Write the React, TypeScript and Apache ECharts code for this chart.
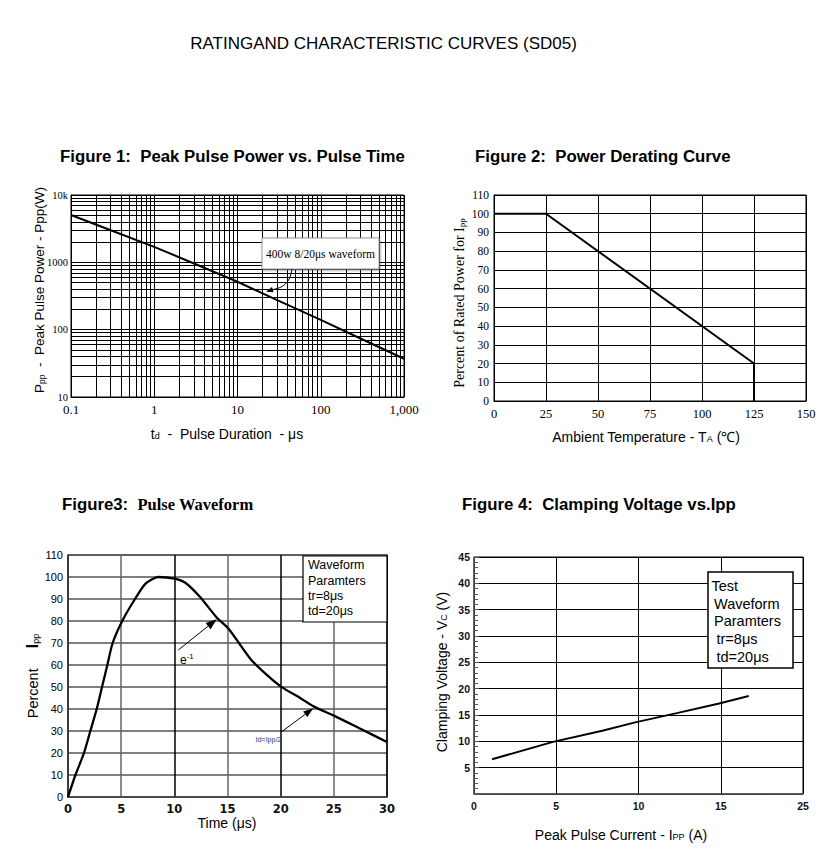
import React, { useEffect, useRef } from 'react';
import * as echarts from 'echarts';

const SANS = '"Liberation Sans", Arial, sans-serif';
const SERIF = '"Liberation Serif", "Times New Roman", serif';
const WIDE = '"DejaVu Sans", sans-serif';

// Figure 1: Peak Pulse Power vs. Pulse Time (log-log)
const fig1Duration = [0.1, 0.3, 1, 3, 10, 30, 100, 300, 1000];
const fig1Power = [5050, 3000, 1700, 960, 515, 275, 140, 74, 37];
const fig1XTicks = ['0.1', '1', '10', '100', '1,000'];
const fig1YTicks = ['10', '100', '1000', '10k'];
const fig1XDecades = [0.1, 1, 10, 100];
const fig1YDecades = [10, 100, 1000];
const logSteps = [2, 3, 4, 5, 6, 7, 8, 9];

// Figure 2: Power Derating Curve
const fig2Temp = [0, 25, 125, 125];
const fig2Percent = [100, 100, 20, 0];

// Figure 3: Pulse Waveform
const fig3Time = [0, 0.7, 1.5, 2.1, 2.7, 3.2, 3.7, 4.2, 5.1, 6.3, 7.3, 8.5, 10, 11, 12.4, 14, 15.1, 17.2, 18.7, 20, 21.9, 23.1, 25, 27.5, 30];
const fig3Percent = [0, 10, 20, 30, 40, 50, 60, 70, 80, 90, 97, 100, 99.3, 97.5, 91, 81.5, 76.5, 62.5, 55.5, 50.3, 44.8, 41.2, 37, 31, 25];

// Figure 4: Clamping Voltage vs. Ipp
const fig4Current = [1.1, 4.8, 7.8, 9.8, 12.4, 14.9, 16.7];
const fig4Voltage = [6.6, 9.9, 12, 13.6, 15.4, 17.2, 18.6];
const fig4XTicks = ['0', '5', '10', '15', '25'];

const zip = (a: number[], b: number[]) => a.map((v, i) => [v, b[i]]);

function arrow(x1: number, y1: number, x2: number, y2: number, len: number, w: number, lw: number) {
  const dx = x2 - x1, dy = y2 - y1, d = Math.hypot(dx, dy);
  const ux = dx / d, uy = dy / d;
  const bx = x2 - ux * len, by = y2 - uy * len;
  return [
    { type: 'line', z: 100, shape: { x1, y1, x2: bx, y2: by }, style: { stroke: '#000', lineWidth: lw } },
    {
      type: 'polygon', z: 100,
      shape: { points: [[x2, y2], [bx - uy * w / 2, by + ux * w / 2], [bx + uy * w / 2, by - ux * w / 2]] },
      style: { fill: '#000' },
    },
  ];
}

function txt(x: number, y: number, text: string, fontSize: number, opts: any = {}) {
  return {
    type: 'text', z: 100, x, y, rotation: opts.rotation || 0,
    style: {
      text, fontSize, fontFamily: opts.fontFamily || SANS, fontWeight: opts.fontWeight || 'normal',
      fill: opts.fill || '#000', align: opts.align || 'center', verticalAlign: opts.verticalAlign || 'middle',
      rich: opts.rich, lineHeight: opts.lineHeight,
    },
  };
}

function subRich(fontSize: number, family: string, subSize: number) {
  return {
    n: { fontSize, fontFamily: family, lineHeight: fontSize + 3, verticalAlign: 'bottom' },
    s: { fontSize: subSize, fontFamily: family, lineHeight: subSize + 1, verticalAlign: 'bottom' },
  };
}

export default function App() {
  const ref = useRef<HTMLDivElement>(null);
  useEffect(() => {
    document.body.style.margin = '0';
    const chart = echarts.init(ref.current!, null, { renderer: 'svg' });

    const minorX = fig1XDecades.flatMap((d) => logSteps.map((k) => ({ xAxis: k * d })));
    const minorY = fig1YDecades.flatMap((d) => logSteps.map((k) => ({ yAxis: k * d })));

    const blackSplit = { show: true, lineStyle: { color: '#000', width: 1 } };

    const option: any = {
      animation: false,
      grid: [
        { left: 71, top: 195, width: 333, height: 202, show: true, borderColor: '#000', borderWidth: 1 },
        { left: 494, top: 195, width: 312, height: 206, show: true, borderColor: '#000', borderWidth: 1 },
        { left: 68, top: 555, width: 319, height: 242, show: true, borderColor: '#555', borderWidth: 1.5 },
        { left: 474, top: 557, width: 329, height: 237, show: true, borderColor: '#000', borderWidth: 1 },
      ],
      xAxis: [
        {
          type: 'log', gridIndex: 0, logBase: 10, min: 0.1, max: 1000, splitNumber: 4,
          axisLine: { lineStyle: { color: '#000' } }, axisTick: { show: false }, splitLine: blackSplit,
          axisLabel: {
            fontFamily: SERIF, fontSize: 13, color: '#000', margin: 6,
            formatter: (v: number) => fig1XTicks[Math.round(Math.log10(v)) + 1] ?? '',
          },
        },
        {
          type: 'value', gridIndex: 1, min: 0, max: 150, interval: 25,
          axisLine: { lineStyle: { color: '#000' } }, axisTick: { show: false }, splitLine: blackSplit,
          axisLabel: { fontFamily: SERIF, fontSize: 12.5, color: '#000', margin: 6 },
        },
        {
          type: 'value', gridIndex: 2, min: 0, max: 30, interval: 5,
          axisLine: { lineStyle: { color: '#444', width: 1.5 } }, axisTick: { show: false },
          splitLine: { show: true, lineStyle: { color: ['#000', '#666'], width: 1.5 } },
          axisLabel: { fontFamily: WIDE, fontWeight: 'bold', fontSize: 11.5, color: '#111', margin: 6 },
        },
        {
          type: 'value', gridIndex: 3, min: 0, max: 20, interval: 5,
          axisLine: { lineStyle: { color: '#555', width: 1.5 } }, axisTick: { show: false }, splitLine: blackSplit,
          axisLabel: {
            fontFamily: SANS, fontWeight: 'bold', fontSize: 10.5, color: '#111', margin: 6,
            formatter: (v: number) => fig4XTicks[Math.round(v / 5)] ?? '',
          },
        },
      ],
      yAxis: [
        {
          type: 'log', gridIndex: 0, logBase: 10, min: 10, max: 10000, splitNumber: 3,
          axisLine: { lineStyle: { color: '#000' } }, axisTick: { show: false }, splitLine: blackSplit,
          axisLabel: {
            fontFamily: SERIF, fontSize: 10.5, color: '#000', margin: 3,
            formatter: (v: number) => fig1YTicks[Math.round(Math.log10(v)) - 1] ?? '',
          },
        },
        {
          type: 'value', gridIndex: 1, min: 0, max: 110, interval: 10,
          axisLine: { lineStyle: { color: '#000' } }, axisTick: { show: false }, splitLine: blackSplit,
          axisLabel: { fontFamily: SERIF, fontSize: 11.5, color: '#000', margin: 5 },
        },
        {
          type: 'value', gridIndex: 2, min: 0, max: 110, interval: 10,
          axisLine: { lineStyle: { color: '#444', width: 1.5 } }, axisTick: { show: false },
          splitLine: { show: true, lineStyle: { color: '#555', width: 1.7 } },
          axisLabel: { fontFamily: SANS, fontSize: 11, color: '#000', margin: 5 },
        },
        {
          type: 'value', gridIndex: 3, min: 0, max: 45, interval: 5,
          axisLine: { lineStyle: { color: '#555', width: 1.5 } },
          axisTick: { show: true, inside: true, length: 5, lineStyle: { color: '#555' } },
          minorTick: { show: true, splitNumber: 5, length: 4, lineStyle: { color: '#555' } },
          splitLine: blackSplit,
          axisLabel: {
            fontFamily: SANS, fontWeight: 'bold', fontSize: 10.5, color: '#111', margin: 4,
            formatter: (v: number) => (v === 0 ? '' : String(v)),
          },
        },
      ],
      series: [
        {
          type: 'line', xAxisIndex: 0, yAxisIndex: 0, data: zip(fig1Duration, fig1Power),
          symbol: 'none', lineStyle: { color: '#000', width: 2 }, silent: true,
          markLine: {
            silent: true, symbol: ['none', 'none'], label: { show: false },
            lineStyle: { color: '#000', width: 1, type: 'solid' },
            emphasis: { disabled: true },
            data: [...minorX, ...minorY],
          },
        },
        {
          type: 'line', xAxisIndex: 1, yAxisIndex: 1, data: zip(fig2Temp, fig2Percent),
          symbol: 'none', lineStyle: { color: '#000', width: 2 }, silent: true,
        },
        {
          type: 'line', xAxisIndex: 2, yAxisIndex: 2, data: zip(fig3Time, fig3Percent),
          symbol: 'none', smooth: 0.25, lineStyle: { color: '#000', width: 2.3 }, silent: true,
        },
        {
          type: 'line', xAxisIndex: 3, yAxisIndex: 3, data: zip(fig4Current, fig4Voltage),
          symbol: 'none', lineStyle: { color: '#000', width: 2 }, silent: true,
        },
      ],
      graphic: [
        txt(383.5, 43, 'RATINGAND CHARACTERISTIC CURVES (SD05)', 17),
        txt(60, 156, 'Figure 1:  Peak Pulse Power vs. Pulse Time', 16.8, { fontWeight: 'bold', align: 'left' }),
        txt(475, 156, 'Figure 2:  Power Derating Curve', 16.8, { fontWeight: 'bold', align: 'left' }),
        txt(62, 504, '{a|Figure3:  }{b|Pulse Waveform}', 16.5, {
          align: 'left',
          rich: {
            a: { fontSize: 16.8, fontWeight: 'bold', fontFamily: SANS },
            b: { fontSize: 16.5, fontWeight: 'bold', fontFamily: SERIF },
          },
        }),
        txt(462, 504, 'Figure 4:  Clamping Voltage vs.Ipp', 16.8, { fontWeight: 'bold', align: 'left' }),

        // axis names
        txt(38, 290, '{n|P}{s|pp}{n|  -  Peak Pulse Power - Ppp(W)}', 13.5, {
          rotation: Math.PI / 2, rich: subRich(13.5, SANS, 8.5),
        }),
        txt(227, 432, '{n|t}{s|d}{n|  -  Pulse Duration  - μs}', 14, { rich: subRich(14, SANS, 9) }),
        txt(458, 303, '{n|Percent of Rated Power for I}{s|pp}', 14, {
          rotation: Math.PI / 2, fontFamily: SERIF, rich: subRich(14, SERIF, 9),
        }),
        txt(646, 435, '{n|Ambient Temperature - T}{s|A}{n| (℃)}', 14, { rich: subRich(14, SANS, 9) }),
        txt(32, 676, '{n|Percent}{n|     }{b|I}{s|pp}', 14.5, {
          rotation: Math.PI / 2,
          rich: {
            ...subRich(14.5, SANS, 9),
            b: { fontSize: 16, fontWeight: 'bold', fontFamily: SANS, lineHeight: 17.5, verticalAlign: 'bottom' },
          },
        }),
        txt(227, 823, 'Time (μs)', 14),
        txt(440, 672, '{n|Clamping Voltage - V}{s|C}{n| (V)}', 14, {
          rotation: Math.PI / 2, rich: subRich(14, SANS, 9),
        }),
        txt(621, 833, '{n|Peak Pulse Current - I}{s|PP}{n| (A)}', 14, { rich: subRich(14, SANS, 9) }),

        // Figure 1 annotation
        {
          type: 'rect', z: 100, shape: { x: 262, y: 238, width: 117, height: 31 },
          style: { fill: '#fff', stroke: '#999', lineWidth: 1, shadowBlur: 2, shadowColor: 'rgba(0,0,0,0.35)', shadowOffsetX: 1, shadowOffsetY: 1 },
        },
        txt(320.5, 254, '400w 8/20μs waveform', 11.5, { fontFamily: SERIF }),
        {
          type: 'bezierCurve', z: 100,
          shape: { x1: 292, y1: 269, cpx1: 290, cpy1: 284, cpx2: 282, cpy2: 288, x2: 272.5, y2: 289.6 },
          style: { stroke: '#000', lineWidth: 1, fill: 'none' },
        },
        {
          type: 'polygon', z: 100,
          shape: { points: [[266, 291.7], [273.6, 292.2], [272, 286.9]] },
          style: { fill: '#000' },
        },

        // Figure 3 annotations
        { type: 'rect', z: 100, shape: { x: 303, y: 556, width: 84, height: 66 }, style: { fill: '#fff', stroke: '#000', lineWidth: 1.2 } },
        txt(308, 565, 'Waveform', 12.5, { align: 'left' }),
        txt(308, 580.5, 'Paramters', 12.5, { align: 'left' }),
        txt(308, 596, 'tr=8μs', 12.5, { align: 'left' }),
        txt(308, 611, 'td=20μs', 12.5, { align: 'left' }),
        ...arrow(178.3, 650, 216.7, 619.3, 11, 8, 1),
        txt(180, 659, '{e|e}{p|-1}', 12, {
          align: 'left',
          rich: {
            e: { fontSize: 12, fontFamily: SANS, lineHeight: 14, verticalAlign: 'bottom' },
            p: { fontSize: 8, fontFamily: SANS, lineHeight: 9, verticalAlign: 'top' },
          },
        }),
        ...arrow(281.7, 731.7, 313.3, 708.3, 10, 7, 1),
        txt(268.5, 739.5, 'td=Ipp/2', 7, { fill: '#1d3a8a' }),

        // Figure 4 annotation box
        { type: 'rect', z: 100, shape: { x: 708, y: 572, width: 85, height: 96 }, style: { fill: '#fff', stroke: '#000', lineWidth: 1.5 } },
        txt(711.5, 586, 'Test', 14.5, { align: 'left' }),
        txt(714, 603.5, 'Waveform', 14.5, { align: 'left' }),
        txt(714, 621, 'Paramters', 14.5, { align: 'left' }),
        txt(716.5, 639, 'tr=8μs', 14.5, { align: 'left' }),
        txt(716.5, 657, 'td=20μs', 14.5, { align: 'left' }),
      ],
    };
    chart.setOption(option);
    return () => chart.dispose();
  }, []);
  return <div ref={ref} style={{ width: 837, height: 856 }} />;
}
